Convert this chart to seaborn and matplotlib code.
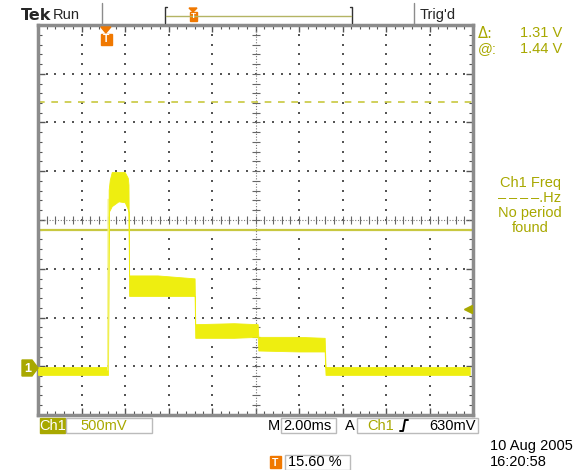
import numpy as np
import pandas as pd
import matplotlib
matplotlib.use("Agg")
import matplotlib.pyplot as plt
from matplotlib.patches import Rectangle, Polygon
import seaborn as sns

# ---------------- data (read from the screen) ----------------
# time in ms (2 ms/div, 10 div), voltage in V above ground (500 mV/div)
trace_t = [0.00, 3.22, 3.25, 3.30, 3.39, 3.70, 3.99, 4.13, 4.16, 4.19, 5.50, 7.20, 7.23,
           9.00, 10.10, 10.13, 12.00, 13.18, 13.22, 19.85]
trace_upper = [0.03, 0.03, 1.85, 1.95, 2.03, 2.03, 2.03, 1.97, 1.90, 0.97, 0.97, 0.94, 0.47,
               0.48, 0.47, 0.34, 0.34, 0.33, 0.03, 0.03]
trace_lower = [-0.05, -0.05, 1.62, 1.64, 1.68, 1.73, 1.72, 1.65, 1.62, 0.76, 0.76, 0.76, 0.33,
               0.33, 0.34, 0.20, 0.19, 0.19, -0.05, -0.05]
rise_t = [3.21, 3.23]
rise_v = [0.0, 1.75]

cursor_active = 1.44      # "@:" value, V
cursor_delta = 1.31       # "Δ:" value, V
trigger_level = 0.63      # V
trigger_pos_pct = 15.60   # %
volts_per_div = 0.5
ms_per_div = 2.0
gnd_div = -3.077          # ground position, divisions from centre

# ---------------- style ----------------
sns.set_theme(style="white")
plt.rcParams["font.family"] = ["Liberation Sans", "DejaVu Sans"]

W, H = 583, 470
fig = plt.figure(figsize=(W / 100, H / 100), dpi=100)
fig.patch.set_facecolor("white")

OLIVE = "#a8a800"
TRACE = "#eeee10"
ORANGE = "#f07800"
GRAY = "#8c8c8c"

L, T, R, B = 38, 25, 473, 415
ax = fig.add_axes([L / W, 1 - B / H, (R - L) / W, (B - T) / H])
ax.set_facecolor("white")

x0, x1 = 0, 10 * ms_per_div
y0 = (-4 - gnd_div) * volts_per_div
y1 = (4 - gnd_div) * volts_per_div
ax.set_xlim(x0, x1)
ax.set_ylim(y0, y1)

# graticule dots
xs_major = np.arange(1, 10) * ms_per_div
ys_major = y0 + np.arange(1, 8) * volts_per_div
xs_fine = np.arange(0, 50 + 1) * ms_per_div / 5
ys_fine = y0 + np.arange(0, 40 + 1) * volts_per_div / 5
cx = 5 * ms_per_div
cy = y0 + 4 * volts_per_div
for xv in xs_major:
    if abs(xv - cx) < 1e-9:
        continue
    ax.scatter(np.full_like(ys_fine, xv), ys_fine, s=0.9, marker="s", color="#555555",
               linewidths=0, zorder=1)
for yv in ys_major:
    if abs(yv - cy) < 1e-9:
        continue
    ax.scatter(xs_fine, np.full_like(xs_fine, yv), s=0.9, marker="s", color="#555555",
               linewidths=0, zorder=1)

# centre cross
ax.axhline(cy, color="#777777", lw=0.8, ls=(0, (1, 1.5)), zorder=1)
ax.axvline(cx, color="#777777", lw=0.8, ls=(0, (1, 1.5)), zorder=1)
ax.plot(xs_fine, np.full_like(xs_fine, cy), ls="none", marker="|", ms=6, mew=0.8,
        color="#666666", zorder=1)
ax.plot(np.full_like(ys_fine, cx), ys_fine, ls="none", marker="_", ms=6, mew=0.8,
        color="#666666", zorder=1)

# frame + edge ticks
for s in ax.spines.values():
    s.set_color(GRAY)
    s.set_linewidth(2.5)
ax.set_xticks(np.arange(0, 11) * ms_per_div)
ax.set_yticks(y0 + np.arange(0, 9) * volts_per_div)
ax.set_xticks(xs_fine, minor=True)
ax.set_yticks(ys_fine, minor=True)
ax.tick_params(which="both", direction="in", top=True, right=True, bottom=True, left=True,
               labelbottom=False, labelleft=False, color="#555555")
ax.tick_params(which="major", length=5, width=1)
ax.tick_params(which="minor", length=3, width=0.8)

# cursors
ax.axhline(cursor_active, color="#c8c840", lw=1.6, zorder=2)
ax.axhline(cursor_active + cursor_delta, color="#c8c840", lw=1.2, ls=(0, (4, 4)), zorder=2)

# trace
ax.fill_between(trace_t, trace_lower, trace_upper, color=TRACE, lw=0.6, edgecolor=TRACE,
                zorder=3)
df_rise = pd.DataFrame({"t": rise_t, "v": rise_v})
sns.lineplot(data=df_rise, x="t", y="v", color="#f2f27a", lw=1.0, ax=ax, zorder=3,
             estimator=None, sort=False)
ax.set_xlabel("")
ax.set_ylabel("")

# trigger level marker (right side)
ax.plot([x1 - 0.25], [trigger_level], marker="<", ms=6, color=OLIVE, clip_on=False, zorder=4)

# ---------------- overlay in pixel coordinates ----------------
ov = fig.add_axes([0, 0, 1, 1], facecolor="none")
ov.set_xlim(0, W)
ov.set_ylim(H, 0)
ov.axis("off")

fs = 10.5
ov.text(21, 15, "Tek", fontsize=11.5, fontweight="bold", va="center", ha="left",
        family=["DejaVu Sans"])
ov.text(53, 15, "Run", fontsize=fs, va="center", ha="left")
ov.plot([102, 102], [3, 24], color=GRAY, lw=1)
ov.plot([414, 414], [3, 24], color=GRAY, lw=1)
ov.text(420, 15, "Trig'd", fontsize=fs, va="center", ha="left")
ov.plot([165, 165, 167], [23, 7, 7], color="#333333", lw=1)
ov.plot([352, 352, 350], [23, 7, 7], color="#333333", lw=1)
ov.plot([166, 351], [16, 16], color="#b4b464", lw=1)
ov.add_patch(Polygon([[189, 8], [197, 8], [193, 12]], closed=True, color=ORANGE))
ov.add_patch(Rectangle((190, 12), 7, 9, color=ORANGE))
ov.text(193.5, 16.5, "T", fontsize=6, color="white", ha="center", va="center", fontweight="bold")

# trigger position marker at graticule top
tpx = L + trigger_pos_pct / 100 * (R - L)
ov.add_patch(Polygon([[tpx - 5, 27], [tpx + 5, 27], [tpx, 33]], closed=True, color=ORANGE))
ov.add_patch(Rectangle((tpx - 5, 34), 11, 11, color=ORANGE))
ov.text(tpx + 0.5, 39.5, "T", fontsize=7.5, color="white", ha="center", va="center",
        fontweight="bold")

# right readouts
ov.text(478, 33, "Δ:", fontsize=fs, color=OLIVE, va="center", ha="left",
        family=["DejaVu Sans"])
ov.text(562, 33, f"{cursor_delta:.2f} V", fontsize=fs, color=OLIVE, va="center", ha="right")
ov.text(478, 49, "@:", fontsize=fs, color=OLIVE, va="center", ha="left")
ov.text(562, 49, f"{cursor_active:.2f} V", fontsize=fs, color=OLIVE, va="center", ha="right")
for yy, s in [(183, "Ch1 Freq"), (198, "–\u2009–\u2009–\u2009–.Hz"), (213, "No period"),
              (228, "found")]:
    ov.text(530, yy, s, fontsize=fs, color=OLIVE, va="center", ha="center")

# ground marker
ov.add_patch(Polygon([[22, 360], [32, 360], [38, 368], [32, 376], [22, 376]], closed=True,
                     color=OLIVE))
ov.text(28, 368.5, "1", fontsize=9, color="white", ha="center", va="center", fontweight="bold")

# bottom readouts
ov.add_patch(Rectangle((40, 418), 25, 15, color=OLIVE))
ov.text(52.5, 425.5, "Ch1", fontsize=fs, color="white", ha="center", va="center")
ov.add_patch(Rectangle((66, 418), 86, 15, fill=False, edgecolor="#bbbbbb", lw=1))
ov.text(80, 425.5, "500mV", fontsize=fs, color=OLIVE, ha="left", va="center")
ov.text(268, 425.5, "M", fontsize=fs, color="black", ha="left", va="center")
ov.add_patch(Rectangle((281, 418), 55, 15, fill=False, edgecolor="#bbbbbb", lw=1))
ov.text(283, 425.5, f"{ms_per_div:.2f}ms", fontsize=fs, color="black", ha="left", va="center")
ov.text(345, 425.5, "A", fontsize=fs, color="black", ha="left", va="center")
ov.add_patch(Rectangle((357, 418), 121, 15, fill=False, edgecolor="#bbbbbb", lw=1))
ov.text(367, 425.5, "Ch1", fontsize=fs, color=OLIVE, ha="left", va="center")
ov.plot([400, 403, 405, 408], [431, 431, 420, 420], color="black", lw=1.4)
ov.text(476, 425.5, f"{trigger_level * 1000:.0f}mV", fontsize=fs, color="black", ha="right",
        va="center")

ov.add_patch(Rectangle((270, 456), 11, 12, color=ORANGE))
ov.text(275.5, 462.5, "T", fontsize=7.5, color="white", ha="center", va="center",
        fontweight="bold")
ov.add_patch(Rectangle((285, 455), 65, 15, fill=False, edgecolor="#bbbbbb", lw=1))
ov.text(288, 462.5, f"{trigger_pos_pct:.2f} %", fontsize=fs, color="black", ha="left",
        va="center")
ov.text(490, 446, "10 Aug 2005", fontsize=fs, color="black", ha="left", va="center")
ov.text(490, 462, "16:20:58", fontsize=fs, color="black", ha="left", va="center")

fig.savefig("out.png", dpi=100, facecolor="white")
